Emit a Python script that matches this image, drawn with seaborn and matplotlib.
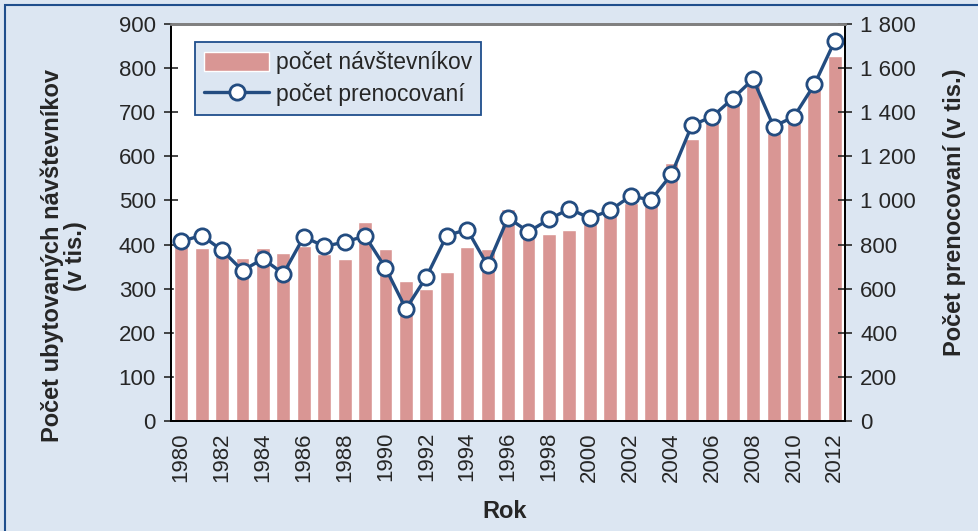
import matplotlib
matplotlib.use("Agg")
import matplotlib.pyplot as plt
import matplotlib.patches as patches
from matplotlib.ticker import FuncFormatter
import seaborn as sns
import numpy as np

years = list(range(1980, 2013))
visitors = [397, 392, 375, 370, 392, 381, 396, 379, 367, 452,
            389, 317, 299, 338, 395, 391, 481, 425, 425, 432,
            450, 466, 495, 498, 585, 639, 680, 722, 764, 652,
            675, 752, 827]
nights = [815, 841, 774, 682, 735, 668, 835, 792, 811, 839,
          694, 508, 653, 841, 868, 705, 921, 858, 914, 962,
          920, 955, 1020, 1002, 1118, 1341, 1380, 1462, 1550, 1335,
          1380, 1526, 1724]
year_labels = [str(y) if y % 2 == 0 else "" for y in years]

bar_color = "#d99694"
line_color = "#234c80"
bg_color = "#dce6f2"

sns.set_style("white")
plt.rcParams['font.family'] = ['Liberation Sans', 'DejaVu Sans']

fig = plt.figure(figsize=(9.79, 5.31), dpi=100, facecolor=bg_color)
ax = fig.add_axes([0.1747, 0.2072, 0.6885, 0.7476])
ax.set_facecolor("white")

n = len(years)
pos = np.arange(n)
sns.barplot(x=pos, y=visitors, color=bar_color, width=0.68, saturation=1,
            ax=ax, label="počet návštevníkov", native_scale=True)
if ax.get_legend():
    ax.get_legend().remove()
ax.set_ylim(0, 900)
ax.set_xlim(-0.5, n - 0.5)
ax.set_yticks(np.arange(0, 901, 100))
ax.tick_params(axis="y", direction="inout", length=10, width=1.2,
               labelsize=16, pad=6)

# tick marks between categories, labels under every other year
ax.set_xticks(np.arange(n + 1) - 0.5)
ax.set_xticklabels([])
ax.tick_params(axis="x", which="major", direction="inout", length=10, width=1.2)
ax.set_xticks(pos, minor=True)
ax.set_xticklabels(year_labels, minor=True, rotation=90, fontsize=16)
ax.tick_params(axis="x", which="minor", length=0, pad=8)
ax.set_xlabel("")
ax.set_ylabel("")

ax2 = ax.twinx()
sns.lineplot(x=pos, y=nights, color=line_color, linewidth=2.4, marker="o",
             markersize=11, markerfacecolor="white", markeredgecolor=line_color,
             markeredgewidth=2, ax=ax2, label="počet prenocovaní")
ax2.set_ylim(0, 1800)
ax2.set_xlim(-0.5, n - 0.5)
ax2.set_yticks(np.arange(0, 1801, 200))
ax2.yaxis.set_major_formatter(FuncFormatter(lambda v, p: f"{int(v):,}".replace(",", " ")))
ax2.tick_params(axis="y", direction="inout", length=10, width=1.2,
                labelsize=16, pad=6)
ax2.set_ylabel("")

for a in (ax, ax2):
    for side in ("left", "right", "bottom"):
        a.spines[side].set_color("black")
        a.spines[side].set_linewidth(1.3)
    a.spines["top"].set_color("#808080")
    a.spines["top"].set_linewidth(2)

h1, l1 = ax.get_legend_handles_labels()
h2, l2 = ax2.get_legend_handles_labels()
if ax2.get_legend():
    ax2.get_legend().remove()
leg = ax2.legend(h1 + h2, l1 + l2, loc="upper left", bbox_to_anchor=(0.036, 0.955),
                 borderaxespad=0, fontsize=16.5, frameon=True, fancybox=False,
                 handlelength=2.8, handleheight=0.9, borderpad=0.4,
                 labelspacing=0.4, handletextpad=0.3)
leg.get_frame().set_facecolor(bg_color)
leg.get_frame().set_edgecolor("#1f4e8c")
leg.get_frame().set_linewidth(1.3)
leg.get_frame().set_alpha(1)

fig.text(64 / 979, 1 - 256 / 531, "Počet ubytovaných návštevníkov\n(v tis.)",
         rotation=90, ha="center", va="center", multialignment="center",
         fontsize=17, fontweight="bold", linespacing=1.0)
fig.text(955 / 979, 1 - 212 / 531, "Počet prenocovaní (v tis.)",
         rotation=90, ha="center", va="center", fontsize=17, fontweight="bold")
fig.text(505 / 979, 1 - 511 / 531, "Rok", ha="center", va="center",
         fontsize=17, fontweight="bold")

# frame around the whole chart area
fig.patches.append(patches.Rectangle((5 / 979, -0.1), 1.2, 0.1 + 1 - 5 / 531,
                                     transform=fig.transFigure, fill=False,
                                     edgecolor="#1f4e8c", linewidth=1.5))

fig.savefig("out.png", dpi=100, facecolor=bg_color)
